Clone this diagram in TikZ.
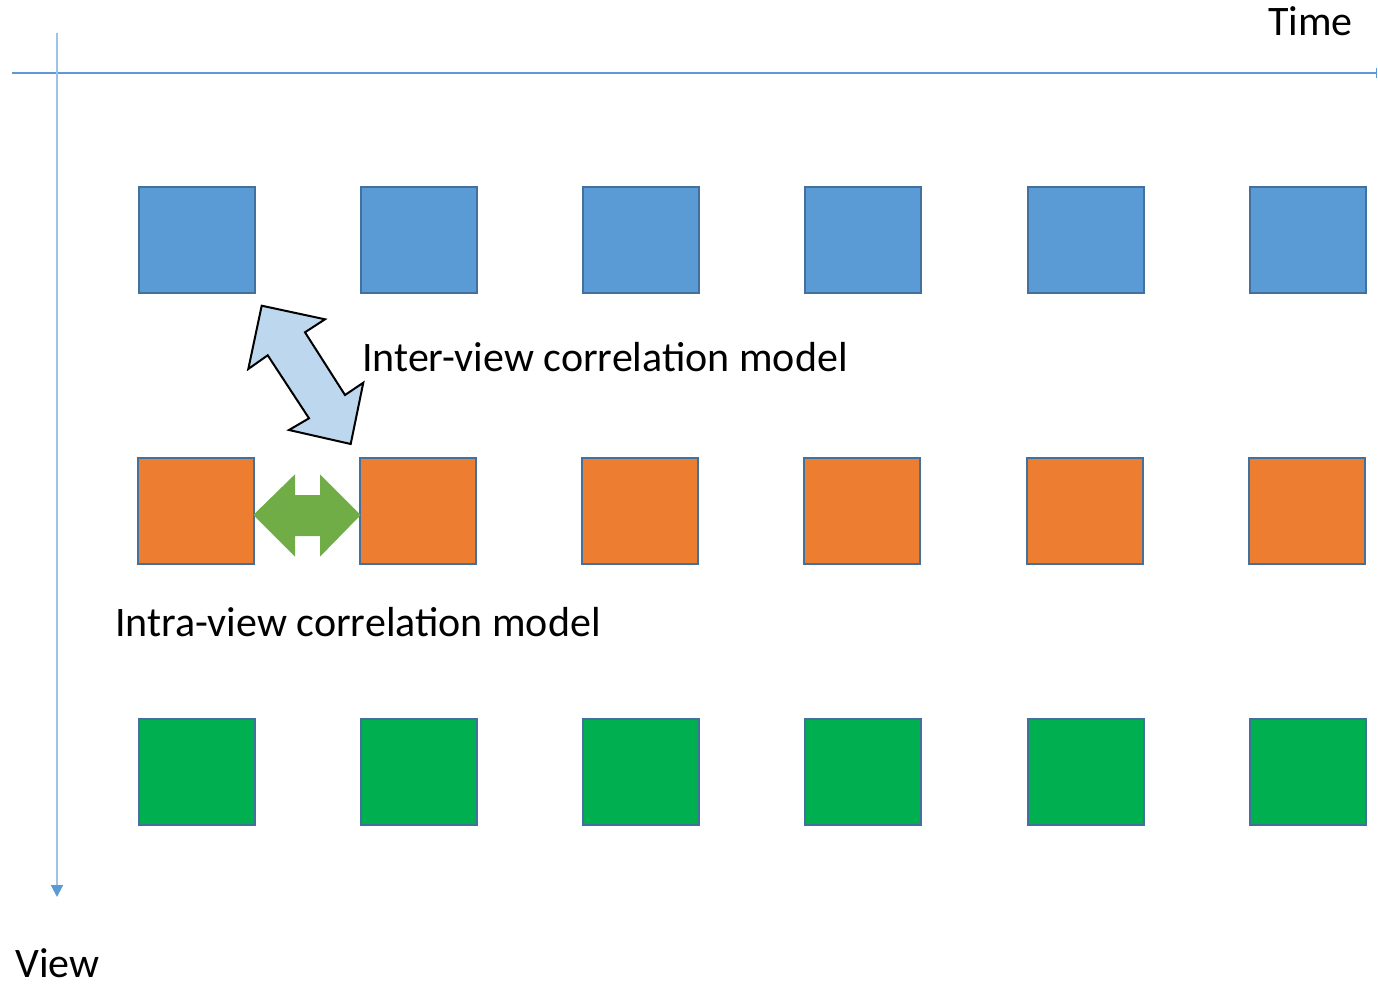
\documentclass[tikz,border=0pt]{standalone}
\usepackage{fontspec}
\setmainfont{Carlito}
\usetikzlibrary{arrows.meta}
\definecolor{sqblue}{HTML}{5B9BD5}
\definecolor{sqorange}{HTML}{ED7D31}
\definecolor{sqgreen}{HTML}{00B050}
\definecolor{sqedge}{HTML}{41719C}
\definecolor{axisblue}{HTML}{5B9BD5}
\definecolor{axislight}{HTML}{9DC3E6}
\definecolor{interfill}{HTML}{BDD7EE}
\definecolor{intrafill}{HTML}{70AD47}
\tikzset{
  sq/.style={draw=sqedge, line width=2pt, minimum width=116pt, minimum height=106pt, inner sep=0pt},
  lbl/.style={font=\fontsize{42}{48}\selectfont, inner sep=0pt, text depth=0pt, anchor=base west},
}
\begin{document}
\begin{tikzpicture}[x=1pt,y=-1pt]
\useasboundingbox (0,0) rectangle (1378,984);
% axes
\coordinate (hs) at (12,73);
\coordinate (he) at (1377,73);
\coordinate (vs) at (57,33);
\coordinate (ve) at (57,897);
\draw[axisblue, line width=1.5pt, -{Bar[width=10pt]}] (hs) -- (he);
\draw[axislight, line width=2pt, -{Triangle[length=12pt,width=12pt,color=axisblue]}] (vs) -- (ve);
\node[lbl] (time) at (1268,36) {Time};
\node[lbl] (view) at (15,977) {View};
% squares
\foreach \i/\x in {1/197,2/419,3/641,4/863,5/1086,6/1308} {
  \node[sq, fill=sqblue] (b\i) at (\x,240) {};
  \node[sq, fill=sqorange] (o\i) at (\x-1.5,510.5) {};
  \node[sq, fill=sqgreen] (g\i) at (\x,772) {};
}
% inter-view arrow
\draw[black, line width=2pt, fill=interfill, line join=miter]
  (261.7,305.7) -- (325,319.3) -- (305,332.3) -- (345,395) -- (363.3,382.7)
  -- (350.7,444) -- (289,430) -- (309,418.3) -- (267.7,355.3) -- (248.3,369) -- cycle;
% intra-view arrow
\fill[intrafill]
  (253.3,515) -- (295,474.3) -- (295,495) -- (320,495) -- (320,474.3) -- (360.7,515)
  -- (320,556.7) -- (320,536) -- (295,536) -- (295,556.7) -- cycle;
\node[lbl] (inter) at (362,371.5) {Inter-view correlation model};
\node[lbl] (intra) at (115,636) {Intra-view correlation model};
\end{tikzpicture}
\end{document}
